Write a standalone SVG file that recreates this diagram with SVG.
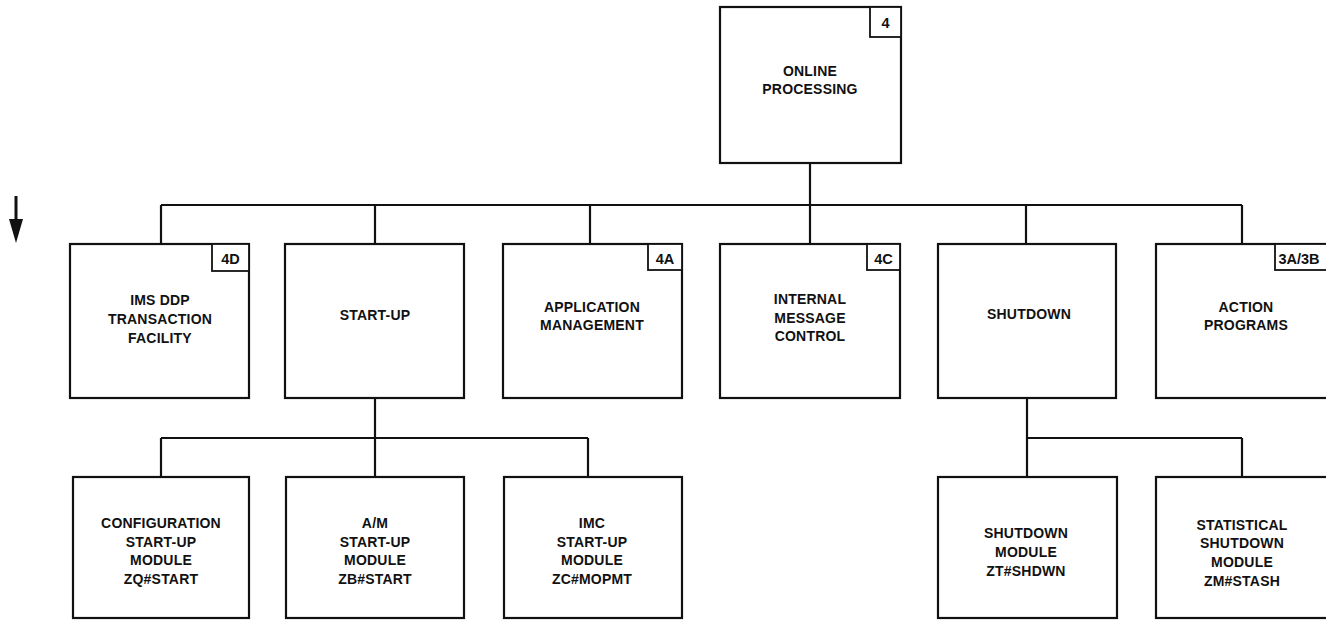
<svg xmlns="http://www.w3.org/2000/svg" width="1326" height="629" viewBox="0 0 1326 629">
  <style>
    .box { fill: #fff; stroke: #111; stroke-width: 2.2; }
    .tag { fill: #fff; stroke: #111; stroke-width: 1.8; }
    .wire { fill: none; stroke: #111; stroke-width: 2.2; }
    .lbl { font-family: "Liberation Sans", Arial, sans-serif; font-weight: bold; font-size: 14px; fill: #111; text-anchor: middle; letter-spacing: 0.2px; }
    .tg { font-family: "Liberation Sans", Arial, sans-serif; font-weight: bold; font-size: 14.5px; fill: #111; text-anchor: middle; }
  </style>
  <rect width="1326" height="629" fill="#fff"/>

  <!-- flow direction arrow -->
  <line x1="16" y1="196" x2="16" y2="222" stroke="#111" stroke-width="3"/>
  <path d="M9,219 L23,219 L16,243 Z" fill="#111"/>

  <!-- connectors -->
  <g id="connectors" class="wire">
    <line x1="810" y1="163" x2="810" y2="244"/>
    <line x1="161" y1="205" x2="1242" y2="205"/>
    <line x1="161" y1="205" x2="161" y2="244"/>
    <line x1="375" y1="205" x2="375" y2="244"/>
    <line x1="590" y1="205" x2="590" y2="244"/>
    <line x1="1026" y1="205" x2="1026" y2="244"/>
    <line x1="1242" y1="205" x2="1242" y2="244"/>

    <line x1="375" y1="398" x2="375" y2="477"/>
    <line x1="161" y1="438" x2="588" y2="438"/>
    <line x1="161" y1="438" x2="161" y2="477"/>
    <line x1="588" y1="438" x2="588" y2="477"/>

    <line x1="1027" y1="398" x2="1027" y2="477"/>
    <line x1="1027" y1="438" x2="1242" y2="438"/>
    <line x1="1242" y1="438" x2="1242" y2="477"/>
  </g>

  <!-- top node -->
  <g id="online-processing">
    <rect class="box" x="720" y="7" width="181" height="156"/>
    <rect class="tag" x="870" y="7" width="31" height="30"/>
    <text class="tg" x="885.5" y="28">4</text>
    <text class="lbl" x="810" y="76">ONLINE</text>
    <text class="lbl" x="810" y="94">PROCESSING</text>
  </g>

  <!-- second level -->
  <g id="ims-ddp">
    <rect class="box" x="70" y="244" width="179" height="154"/>
    <rect class="tag" x="212" y="244" width="37" height="27"/>
    <text class="tg" x="230.5" y="264">4D</text>
    <text class="lbl" x="160" y="305">IMS DDP</text>
    <text class="lbl" x="160" y="324">TRANSACTION</text>
    <text class="lbl" x="160" y="343">FACILITY</text>
  </g>

  <g id="start-up">
    <rect class="box" x="285" y="244" width="179" height="154"/>
    <text class="lbl" x="375" y="320">START-UP</text>
  </g>

  <g id="application-management">
    <rect class="box" x="503" y="244" width="179" height="154"/>
    <rect class="tag" x="648" y="244" width="34" height="26"/>
    <text class="tg" x="665" y="264">4A</text>
    <text class="lbl" x="592" y="312">APPLICATION</text>
    <text class="lbl" x="592" y="330">MANAGEMENT</text>
  </g>

  <g id="internal-message-control">
    <rect class="box" x="720" y="244" width="180" height="154"/>
    <rect class="tag" x="867" y="244" width="33" height="26"/>
    <text class="tg" x="883.5" y="264">4C</text>
    <text class="lbl" x="810" y="304">INTERNAL</text>
    <text class="lbl" x="810" y="323">MESSAGE</text>
    <text class="lbl" x="810" y="341">CONTROL</text>
  </g>

  <g id="shutdown">
    <rect class="box" x="938" y="244" width="178" height="154"/>
    <text class="lbl" x="1029" y="319">SHUTDOWN</text>
  </g>

  <g id="action-programs">
    <rect class="box" x="1156" y="244" width="179" height="154"/>
    <rect class="tag" x="1275" y="244" width="60" height="26"/>
    <text class="tg" x="1299" y="264">3A/3B</text>
    <text class="lbl" x="1246" y="312">ACTION</text>
    <text class="lbl" x="1246" y="330">PROGRAMS</text>
  </g>

  <!-- third level: start-up modules -->
  <g id="zq-start">
    <rect class="box" x="73" y="477" width="176" height="141"/>
    <text class="lbl" x="161" y="528">CONFIGURATION</text>
    <text class="lbl" x="161" y="547">START-UP</text>
    <text class="lbl" x="161" y="565">MODULE</text>
    <text class="lbl" x="161" y="584">ZQ#START</text>
  </g>

  <g id="zb-start">
    <rect class="box" x="286" y="477" width="178" height="141"/>
    <text class="lbl" x="375" y="528">A/M</text>
    <text class="lbl" x="375" y="547">START-UP</text>
    <text class="lbl" x="375" y="565">MODULE</text>
    <text class="lbl" x="375" y="584">ZB#START</text>
  </g>

  <g id="zc-mopmt">
    <rect class="box" x="504" y="477" width="178" height="141"/>
    <text class="lbl" x="592" y="528">IMC</text>
    <text class="lbl" x="592" y="547">START-UP</text>
    <text class="lbl" x="592" y="565">MODULE</text>
    <text class="lbl" x="592" y="584">ZC#MOPMT</text>
  </g>

  <!-- third level: shutdown modules -->
  <g id="zt-shdwn">
    <rect class="box" x="938" y="477" width="179" height="141"/>
    <text class="lbl" x="1026" y="538">SHUTDOWN</text>
    <text class="lbl" x="1026" y="557">MODULE</text>
    <text class="lbl" x="1026" y="576">ZT#SHDWN</text>
  </g>

  <g id="zm-stash">
    <rect class="box" x="1156" y="477" width="173" height="141"/>
    <text class="lbl" x="1242" y="530" letter-spacing="1">STATISTICAL</text>
    <text class="lbl" x="1242" y="548">SHUTDOWN</text>
    <text class="lbl" x="1242" y="567">MODULE</text>
    <text class="lbl" x="1242" y="586">ZM#STASH</text>
  </g>
</svg>
